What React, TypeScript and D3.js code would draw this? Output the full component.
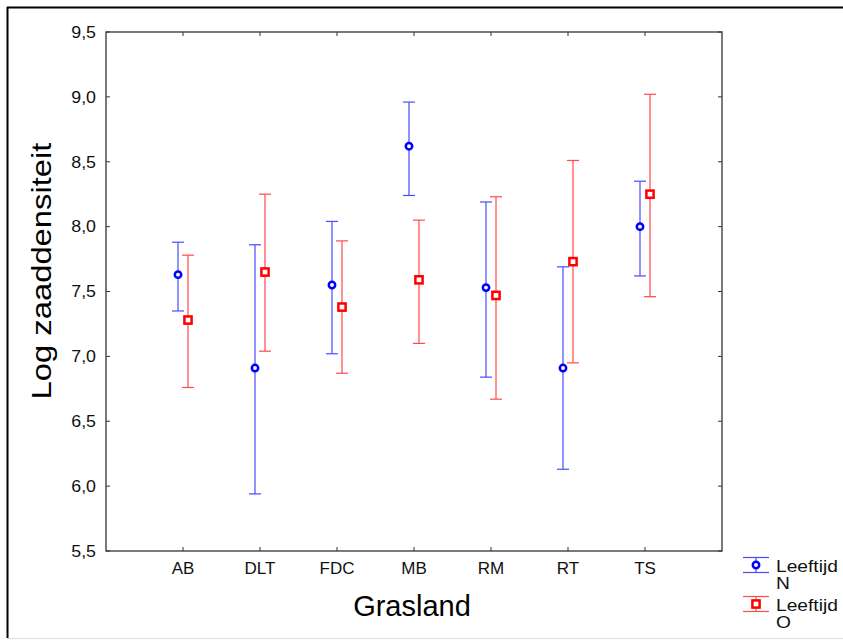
import React from "react";
import * as d3 from "d3";

const categories = ["AB", "DLT", "FDC", "MB", "RM", "RT", "TS"];
const meanN = [7.63, 6.91, 7.55, 8.62, 7.53, 6.91, 8.0];
const upperN = [7.88, 7.86, 8.04, 8.96, 8.19, 7.69, 8.35];
const lowerN = [7.35, 5.94, 7.02, 8.24, 6.84, 6.13, 7.62];
const meanO = [7.28, 7.65, 7.38, 7.59, 7.47, 7.73, 8.25];
const upperO = [7.78, 8.25, 7.89, 8.05, 8.23, 8.51, 9.02];
const lowerO = [6.76, 7.04, 6.87, 7.1, 6.67, 6.95, 7.46];
const yTicks = [5.5, 6.0, 6.5, 7.0, 7.5, 8.0, 8.5, 9.0, 9.5];

const W = 843, H = 641;
const L = 106, T = 32, R = 722, B = 551;
const FONT = "'Liberation Sans', Arial, sans-serif";

export default function App() {
  const x = d3.scalePoint<string>().domain(categories).range([L, R]).padding(1);
  const y = d3.scaleLinear().domain([5.5, 9.5]).range([B, T]);
  const fmt = (v: number) => v.toFixed(1).replace(".", ",");
  const off = 5;
  const cap = 6;

  const series = [
    { mean: meanN, up: upperN, lo: lowerN, color: "#0000ff", bar: "#4a4aff", dx: -off, shape: "circle" },
    { mean: meanO, up: upperO, lo: lowerO, color: "#ff0000", bar: "#ff4a4a", dx: off, shape: "square" },
  ];

  const marker = (shape: string, cx: number, cy: number, color: string, key?: string) =>
    shape === "circle" ? (
      <circle key={key} cx={cx} cy={cy} r={3.2} fill="#fff" stroke={color} strokeWidth={2.5} />
    ) : (
      <rect key={key} x={cx - 3.6} y={cy - 3.6} width={7.2} height={7.2} fill="#fff" stroke={color} strokeWidth={2.5} />
    );

  return (
    <svg width={W} height={H} style={{ position: "absolute", left: 0, top: 0, background: "#fff" }} fontFamily={FONT}>
      {/* outer frame */}
      <line x1={7} y1={7.5} x2={W} y2={7.5} stroke="#000" strokeWidth={2} />
      <line x1={7.5} y1={7} x2={7.5} y2={638} stroke="#000" strokeWidth={2} />
      <line x1={7} y1={638.5} x2={W} y2={638.5} stroke="#ddd" strokeWidth={1} />

      {/* plot frame */}
      <rect x={L} y={T} width={R - L} height={B - T} fill="none" stroke="#333" strokeWidth={1.3} />

      {/* y ticks */}
      {yTicks.map((t) => (
        <g key={t}>
          <line x1={L} x2={L + 4} y1={y(t)} y2={y(t)} stroke="#333" />
          <line x1={R} x2={R - 4} y1={y(t)} y2={y(t)} stroke="#333" />
          <text
            transform={`translate(${L - 10},${y(t)}) scale(1.08,1)`}
            dy="0.35em"
            textAnchor="end"
            fontSize={16.5}
            fill="#111"
          >
            {fmt(t)}
          </text>
        </g>
      ))}
      {/* x ticks */}
      {categories.map((c) => (
        <g key={c}>
          <line x1={x(c)} x2={x(c)} y1={B} y2={B - 4} stroke="#333" />
          <line x1={x(c)} x2={x(c)} y1={T} y2={T + 4} stroke="#333" />
          <text x={x(c)} y={B + 23} textAnchor="middle" fontSize={17} fill="#111">
            {c}
          </text>
        </g>
      ))}

      {/* axis titles */}
      <text x={412} y={616} textAnchor="middle" fontSize={29} fill="#000">
        Grasland
      </text>
      <text transform={`translate(51,271) rotate(-90) scale(1.17,1)`} textAnchor="middle" fontSize={28} fill="#000">
        Log zaaddensiteit
      </text>

      {/* error bars */}
      {series.map((s, si) =>
        categories.map((c, i) => {
          const cx = (x(c) as number) + s.dx;
          return (
            <g key={si + c}>
              <line x1={cx} x2={cx} y1={y(s.up[i])} y2={y(s.lo[i])} stroke={s.bar} strokeWidth={1.2} />
              <line x1={cx - cap} x2={cx + cap} y1={y(s.up[i])} y2={y(s.up[i])} stroke={s.bar} strokeWidth={1.2} />
              <line x1={cx - cap} x2={cx + cap} y1={y(s.lo[i])} y2={y(s.lo[i])} stroke={s.bar} strokeWidth={1.2} />
              {marker(s.shape, cx, y(s.mean[i]), s.color)}
            </g>
          );
        })
      )}

      {/* legend */}
      {[
        { s: series[0], label: "N", ly: 565 },
        { s: series[1], label: "O", ly: 604 },
      ].map(({ s, label, ly }) => (
        <g key={label}>
          <line x1={743} x2={769} y1={ly - 7.5} y2={ly - 7.5} stroke={s.bar} strokeWidth={1.2} />
          <line x1={743} x2={769} y1={ly + 7.5} y2={ly + 7.5} stroke={s.bar} strokeWidth={1.2} />
          <line x1={756} x2={756} y1={ly - 7.5} y2={ly + 7.5} stroke={s.bar} strokeWidth={1.2} />
          {marker(s.shape, 756, ly, s.color)}
          <text transform={`translate(776,${ly + 7}) scale(1.2,1)`} fontSize={16} fill="#111">
            Leeftijd
          </text>
          <text transform={`translate(776,${ly + 24}) scale(1.2,1)`} fontSize={16} fill="#111">
            {label}
          </text>
        </g>
      ))}
    </svg>
  );
}
